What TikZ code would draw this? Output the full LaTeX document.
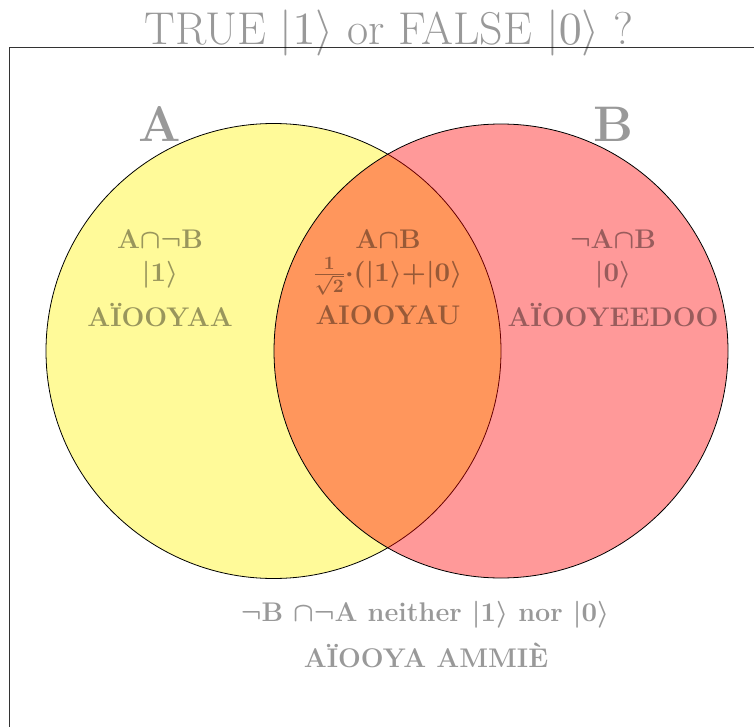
\documentclass[tikz,border=0pt]{standalone}
\DeclareFontShape{OT1}{cmr}{m}{n}{<->cmr10}{}
\DeclareFontShape{OT1}{cmr}{bx}{n}{<->cmbx10}{}
\DeclareFontShape{OML}{cmm}{m}{it}{<->cmmi10}{}
\DeclareFontShape{OML}{cmm}{b}{it}{<->cmmib10}{}
\DeclareFontShape{OMS}{cmsy}{m}{n}{<->cmsy10}{}
\DeclareFontShape{OMS}{cmsy}{b}{n}{<->cmbsy10}{}
\begin{document}
\begin{tikzpicture}[x=1pt,y=-1pt,
  lbl/.style={text=black,text opacity=0.4,font=\fontsize{27}{32}\selectfont\bfseries\boldmath,inner sep=0pt,anchor=base},
  big/.style={text=black,text opacity=0.4,font=\fontsize{50}{60}\selectfont\bfseries,inner sep=0pt,anchor=base},
  ttl/.style={text=black,text opacity=0.4,font=\fontsize{46}{55}\selectfont,inner sep=0pt,anchor=base},
  frameline/.style={line width=0.9pt,draw=black!80},
  setcirc/.style={draw=black,line width=0.8pt,fill opacity=0.4}]
\useasboundingbox (0,0) rectangle (754,727);
\coordinate (ftr) at (754,47);
\coordinate (ftl) at (9,47);
\coordinate (fbl) at (9,727);
\draw[frameline] (ftr) -- (ftl) -- (fbl);
\node[ttl] (title) at (389,45) {TRUE $|1\rangle$ or FALSE $|0\rangle$ ?};
\draw[setcirc,fill=yellow] (273.5,351) circle[radius=227.5];
\draw[setcirc,fill=red] (501,351) circle[radius=227];
\node[big] (A) at (160,142) {A};
\node[big] (B) at (613,142) {B};
\node[lbl] (a1) at (160,248) {A$\cap\neg$B};
\node[lbl] (a2) at (160,281) {$|1\rangle$};
\node[lbl] (a3) at (160,326) {AÏOOYAA};
\node[lbl] (m1) at (388,248) {A$\cap$B};
\node[lbl] (m2) at (388,281) {$\frac{1}{\sqrt{2}}{\cdot}(|1\rangle{+}|0\rangle$};
\node[lbl] (m3) at (388,324) {AIOOYAU};
\node[lbl] (b1) at (613,248) {$\neg$A$\cap$B};
\node[lbl] (b2) at (613,281) {$|0\rangle$};
\node[lbl] (b3) at (613,326) {AÏOOYEEDOO};
\node[lbl] (n1) at (425,621) {$\neg$B $\cap\neg$A neither $|1\rangle$ nor $|0\rangle$};
\node[lbl] (n2) at (426,667) {AÏOOYA AMMIÈ};
\end{tikzpicture}
\end{document}
